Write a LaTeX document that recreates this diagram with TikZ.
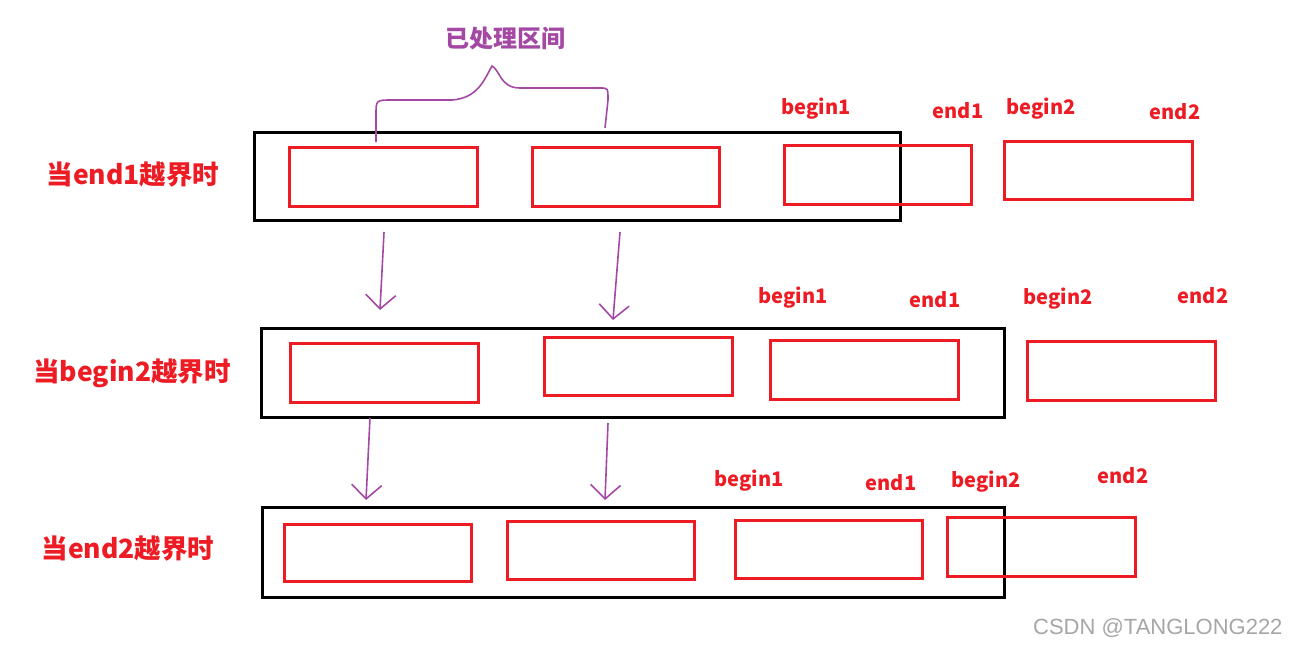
\documentclass[tikz,border=0pt]{standalone}
\usepackage{fontspec}
\setmainfont{Liberation Sans}
\newfontfamily\cjk{Noto Sans CJK SC}
\usetikzlibrary{arrows.meta}
\definecolor{myred}{RGB}{237,28,36}
\definecolor{mypurple}{RGB}{163,73,164}
\tikzset{
	outer/.style={draw=black,line width=3pt},
	inner/.style={draw=myred,line width=3pt},
	tag/.style={text=myred,font=\cjk\bfseries\fontsize{20}{23}\selectfont},
	rowname/.style={text=myred,font=\cjk\bfseries\fontsize{26.5}{30}\selectfont},
	moved/.style={draw=mypurple,line width=1.6pt,-{Straight Barb[length=14pt,width=30pt]}}
}
\begin{document}
\begin{tikzpicture}[x=1pt,y=-1pt]
	\useasboundingbox (0,0) rectangle (1289,649);

	%first row
	\node[rowname] (r1) at (133,175) {当end1越界时};
	\draw[outer] (254,132) rectangle (900,220);
	\draw[inner] (289,147) rectangle (477,206);
	\draw[inner] (532,147) rectangle (719,206);
	\draw[inner] (784,145) rectangle (971,204);
	\draw[inner] (1004,141) rectangle (1192,199);
	\node[tag] (b1a) at (816,109) {begin1};
	\node[tag] (e1a) at (958,111) {end1};
	\node[tag] (b2a) at (1041,109) {begin2};
	\node[tag] (e2a) at (1175,112) {end2};

	%brace over the handled part
	\node[text=mypurple,font=\cjk\bfseries\fontsize{24}{27}\selectfont] (done) at (505,38) {已处理区间};
	\draw[mypurple,line width=1.6pt] (376,142) -- (376,115) .. controls (376,100) .. (392,100) -- (452,100)
		.. controls (478,98) and (484,80) .. (492,66) .. controls (500,70) and (500,88) .. (520,88)
		-- (600,88) .. controls (608,88) .. (608,100) -- (605,128);

	%second row
	\node[rowname] (r2) at (132,373) {当begin2越界时};
	\draw[outer] (261,328) rectangle (1004,417);
	\draw[inner] (290,343) rectangle (478,402);
	\draw[inner] (544,337) rectangle (732,395);
	\draw[inner] (770,340) rectangle (958,399);
	\draw[inner] (1027,341) rectangle (1215,400);
	\node[tag] (b1b) at (793,298) {begin1};
	\node[tag] (e1b) at (935,300) {end1};
	\node[tag] (b2b) at (1058,299) {begin2};
	\node[tag] (e2b) at (1203,296) {end2};

	%third row
	\node[rowname] (r3) at (128,549) {当end2越界时};
	\draw[outer] (262,507) rectangle (1004,597);
	\draw[inner] (284,524) rectangle (471,581);
	\draw[inner] (507,521) rectangle (694,579);
	\draw[inner] (735,520) rectangle (922,578);
	\draw[inner] (947,517) rectangle (1135,576);
	\node[tag] (b1c) at (749,481) {begin1};
	\node[tag] (e1c) at (891,483) {end1};
	\node[tag] (b2c) at (986,482) {begin2};
	\node[tag] (e2c) at (1123,476) {end2};

	%arrows between rows
	\coordinate (p1) at (384,232); \coordinate (q1) at (380,310);
	\coordinate (p2) at (620,232); \coordinate (q2) at (613,320);
	\coordinate (p3) at (370,418); \coordinate (q3) at (366,500);
	\coordinate (p4) at (608,423); \coordinate (q4) at (605,500);
	\foreach \a/\b in {p1/q1,p2/q2,p3/q3,p4/q4}
		\draw[moved] (\a) -- (\b);

	\node[text=black!35,font=\fontsize{22}{25}\selectfont,anchor=east] (mark) at (1286,628) {CSDN @TANGLONG222};
\end{tikzpicture}
\end{document}
